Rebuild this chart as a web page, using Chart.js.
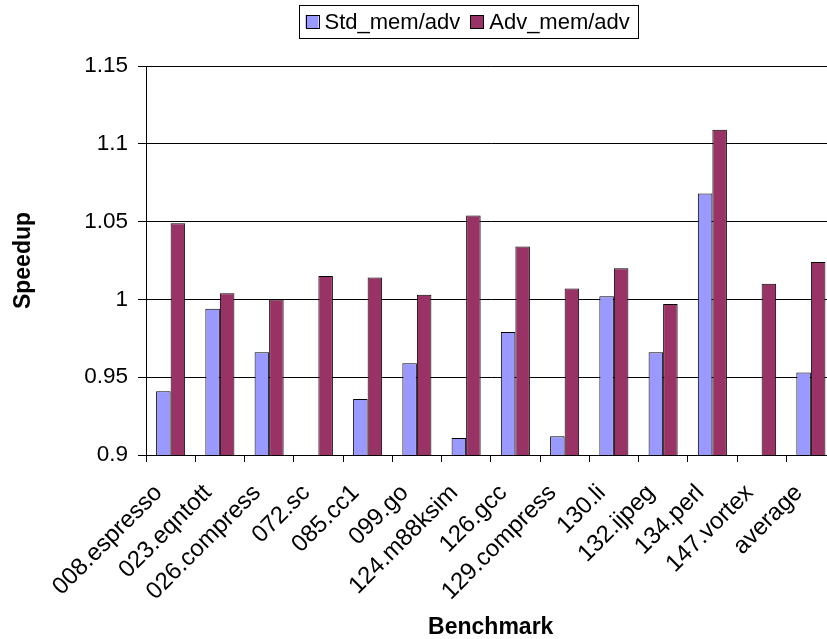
<!DOCTYPE html>
<html>
<head>
<meta charset="utf-8">
<script src="https://cdn.jsdelivr.net/npm/chart.js@4.4.0/dist/chart.umd.min.js"></script>
<style>
  html, body { margin: 0; padding: 0; background: #fff; overflow: hidden; }
  #wrap { width: 880px; height: 639px; }
</style>
</head>
<body>
<div id="wrap"><canvas id="c" width="880" height="639"></canvas></div>
<script>
// Benchmarks on the x axis
const benchmarks = ['008.espresso', '023.eqntott', '026.compress', '072.sc', '085.cc1', '099.go',
  '124.m88ksim', '126.gcc', '129.compress', '130.li', '132.ijpeg', '134.perl', '147.vortex', 'average'];

// Speedup per benchmark (null = below the visible range)
const stdMemAdv = [0.941, 0.994, 0.966, null, 0.936, 0.959, 0.911, 0.979, 0.912, 1.002, 0.966, 1.068, null, 0.953];
const advMemAdv = [1.049, 1.004, 1.000, 1.015, 1.014, 1.003, 1.054, 1.034, 1.007, 1.020, 0.997, 1.109, 1.010, 1.024];

// Y axis tick labels, bottom to top
const yTickLabels = ['0.9', '0.95', '1', '1.05', '1.1', '1.15'];

const FONT = "Arial, 'Liberation Sans', sans-serif";

// Boxed legend drawn above the plot
const boxedLegend = {
  id: 'boxedLegend',
  afterDraw(chart) {
    const ctx = chart.ctx;
    const left = 299, top = 5, h = 33, sq = 13;
    ctx.save();
    ctx.font = '22px ' + FONT;
    ctx.textBaseline = 'middle';
    ctx.textAlign = 'left';
    let x = left + 6.5;
    const cy = top + h / 2;
    chart.data.datasets.forEach((ds, i) => {
      ctx.fillStyle = ds.backgroundColor;
      ctx.fillRect(x, cy - sq / 2, sq, sq);
      ctx.strokeStyle = '#000';
      ctx.lineWidth = 1;
      ctx.strokeRect(Math.round(x) + 0.5, Math.round(cy - sq / 2) + 0.5, sq, sq);
      x += sq + 6;
      ctx.fillStyle = '#000';
      ctx.fillText(ds.label, x, cy + 1);
      x += ctx.measureText(ds.label).width;
      if (i < chart.data.datasets.length - 1) x += 10;
    });
    const right = x + 8;
    ctx.strokeStyle = '#000';
    ctx.lineWidth = 1;
    ctx.strokeRect(left + 0.5, top + 0.5, Math.round(right - left), h);
    ctx.restore();
  }
};

new Chart(document.getElementById('c'), {
  type: 'bar',
  data: {
    labels: benchmarks,
    datasets: [
      { label: 'Std_mem/adv', data: stdMemAdv, backgroundColor: '#9999FF', borderColor: '#000', borderWidth: 1 },
      { label: 'Adv_mem/adv', data: advMemAdv, backgroundColor: '#993366', borderColor: '#000', borderWidth: 1 }
    ]
  },
  options: {
    responsive: false,
    animation: false,
    categoryPercentage: 0.59,
    barPercentage: 1.0,
    layout: { padding: { top: 66, right: 44.5, bottom: 0, left: 0 } },
    plugins: { legend: { display: false }, tooltip: { enabled: false } },
    scales: {
      x: {
        grid: { drawOnChartArea: false, drawTicks: true, tickLength: 7, color: '#000', offset: true },
        border: { color: '#000' },
        ticks: {
          font: { family: FONT, size: 24 }, color: '#000',
          maxRotation: 45, minRotation: 45, autoSkip: false,
          padding: 17, labelOffset: -12
        },
        title: {
          display: true, text: 'Benchmark', color: '#000',
          font: { family: FONT, size: 23, weight: 'bold' },
          padding: { top: 0, bottom: -2 }
        },
        afterFit(scale) { scale.height = 184; }
      },
      y: {
        min: 0.9, max: 1.15,
        grid: { color: '#000', tickLength: 8, drawTicks: true },
        border: { color: '#000' },
        ticks: {
          stepSize: 0.05, font: { family: FONT, size: 22.5 }, color: '#000', padding: 10,
          callback: (v, i) => yTickLabels[i]
        },
        title: {
          display: true, text: 'Speedup', color: '#000',
          font: { family: FONT, size: 23, weight: 'bold' },
          padding: { top: 10, bottom: 0 }
        },
        afterFit(scale) { scale.width = 146; }
      }
    }
  },
  plugins: [boxedLegend]
});
</script>
</body>
</html>
